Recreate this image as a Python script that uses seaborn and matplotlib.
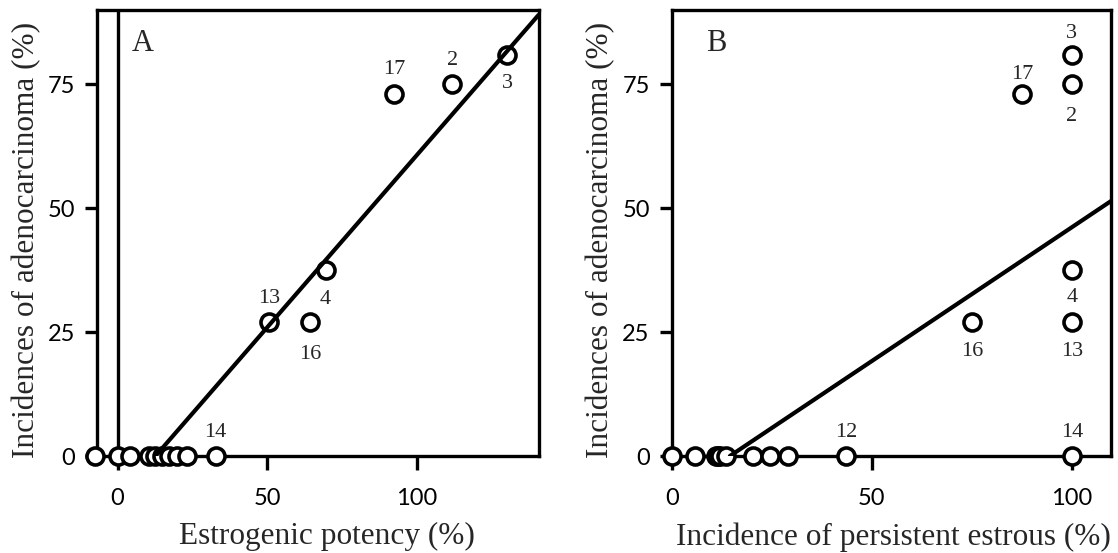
import matplotlib
matplotlib.use("Agg")
import matplotlib.pyplot as plt
import seaborn as sns
import pandas as pd

# ---------------- data ----------------
# Panel A: estrogenic potency (%) vs incidence of adenocarcinoma (%)
a_potency = [-7.4, 0.0, 4.3, 10.4, 12.7, 14.9, 17.2, 20.0, 23.4, 32.8,
             50.6, 64.5, 69.6, 92.4, 111.9, 130.3]
a_incidence = [0, 0, 0, 0, 0, 0, 0, 0, 0, 0,
               27, 27, 37.5, 73, 75, 81]
a_labels = ["", "", "", "", "", "", "", "", "", "14",
            "13", "16", "4", "17", "2", "3"]
a_fit_x = [12.7, 140.8]
a_fit_y = [0.0, 89.0]

# Panel B: incidence of persistent estrous (%) vs incidence of adenocarcinoma (%)
b_estrous = [0.0, 5.75, 11.0, 11.5, 12.0, 13.5, 20.3, 24.5, 29.0, 43.5,
             100, 75.0, 100, 87.5, 100, 100, 100]
b_incidence = [0, 0, 0, 0, 0, 0, 0, 0, 0, 0,
               27, 27, 37.5, 73, 75, 81, 0]
b_labels = ["", "", "", "", "", "", "", "", "", "12",
            "13", "16", "4", "17", "2", "3", "14"]
b_fit_x = [14.5, 109.9]
b_fit_y = [0.0, 51.5]

y_ticks = [0, 25, 50, 75]
a_x_ticks = [0, 50, 100]
b_x_ticks = [0, 50, 100]

# ---------------- style ----------------
sns.set_style("ticks")
plt.rcParams["font.family"] = ["Lato", "DejaVu Sans"]
SERIF = ["Liberation Serif", "DejaVu Serif"]

fig = plt.figure(figsize=(11.18, 5.53), dpi=100)
axA = fig.add_axes([0.0872, 0.1754, 0.3945, 0.8065])
axB = fig.add_axes([0.601, 0.1754, 0.3931, 0.8065])

LW_SPINE = 2.4
MS = 150

# offsets (points) for the point labels, keyed by label text
offA = {"14": 17, "13": 17, "16": -23, "4": -21, "17": 18, "2": 17, "3": -21}
offB = {"12": 17, "14": 17, "13": -21, "16": -21, "4": -20, "17": 14, "2": -23, "3": 15}


def style_axis(ax, xlim, xticks):
    ax.set_xlim(*xlim)
    ax.set_ylim(0, 90)
    for s in ["left", "right", "top", "bottom"]:
        ax.spines[s].set_visible(True)
        ax.spines[s].set_linewidth(LW_SPINE)
        ax.spines[s].set_color("black")
        ax.spines[s].set_zorder(2)
    ax.set_yticks(y_ticks)
    ax.set_xticks(xticks)
    ax.tick_params(axis="y", direction="out", length=9, width=LW_SPINE,
                   pad=7, labelsize=17, colors="black")
    ax.tick_params(axis="x", direction="out", length=10, width=LW_SPINE,
                   pad=13, labelsize=17, colors="black")
    ax.grid(False)
    ax.set_facecolor("white")


def draw_points(ax, xs, ys):
    df = pd.DataFrame({"x": xs, "y": ys})
    sns.scatterplot(data=df, x="x", y="y", ax=ax, s=MS, marker="o",
                    facecolor="white", edgecolor="black", linewidth=2.6,
                    zorder=3, clip_on=False, legend=False)


def draw_fit(ax, xs, ys):
    df = pd.DataFrame({"x": xs, "y": ys})
    sns.lineplot(data=df, x="x", y="y", ax=ax, color="black", linewidth=3.0,
                 zorder=4, legend=False)


def annotate(ax, xs, ys, labels, offs):
    for x, y, lab in zip(xs, ys, labels):
        if not lab:
            continue
        ax.annotate(lab, (x, y), xytext=(0, offs[lab]), textcoords="offset points",
                    ha="center", va="center", fontsize=16, family=SERIF,
                    zorder=5, annotation_clip=False)


# ---- Panel A ----
axA.axvline(0, color="black", linewidth=LW_SPINE, zorder=2)
draw_points(axA, a_potency, a_incidence)
draw_fit(axA, a_fit_x, a_fit_y)
annotate(axA, a_potency, a_incidence, a_labels, offA)
style_axis(axA, (-6.7, 140.8), a_x_ticks)
axA.text(0.103, 0.924, "A", transform=axA.transAxes, ha="center", va="center",
         fontsize=22, family=SERIF)
axA.set_xlabel("Estrogenic potency (%)", fontsize=22.5, family=SERIF)
axA.set_ylabel("Incidences of adenocarcinoma (%)", fontsize=22.5, family=SERIF)
axA.xaxis.set_label_coords(0.52, -0.148)
axA.yaxis.set_label_coords(-0.128, 0.484)

# ---- Panel B ----
draw_points(axB, b_estrous, b_incidence)
draw_fit(axB, b_fit_x, b_fit_y)
annotate(axB, b_estrous, b_incidence, b_labels, offB)
style_axis(axB, (0, 109.9), b_x_ticks)
axB.text(0.1, 0.924, "B", transform=axB.transAxes, ha="center", va="center",
         fontsize=22, family=SERIF)
axB.set_xlabel("Incidence of persistent estrous (%)", fontsize=22.5, family=SERIF)
axB.set_ylabel("Incidences of adenocarcinoma (%)", fontsize=22.5, family=SERIF)
axB.xaxis.set_label_coords(0.503, -0.148)
axB.yaxis.set_label_coords(-0.1285, 0.484)

fig.savefig("out.png", dpi=100, facecolor="white")
